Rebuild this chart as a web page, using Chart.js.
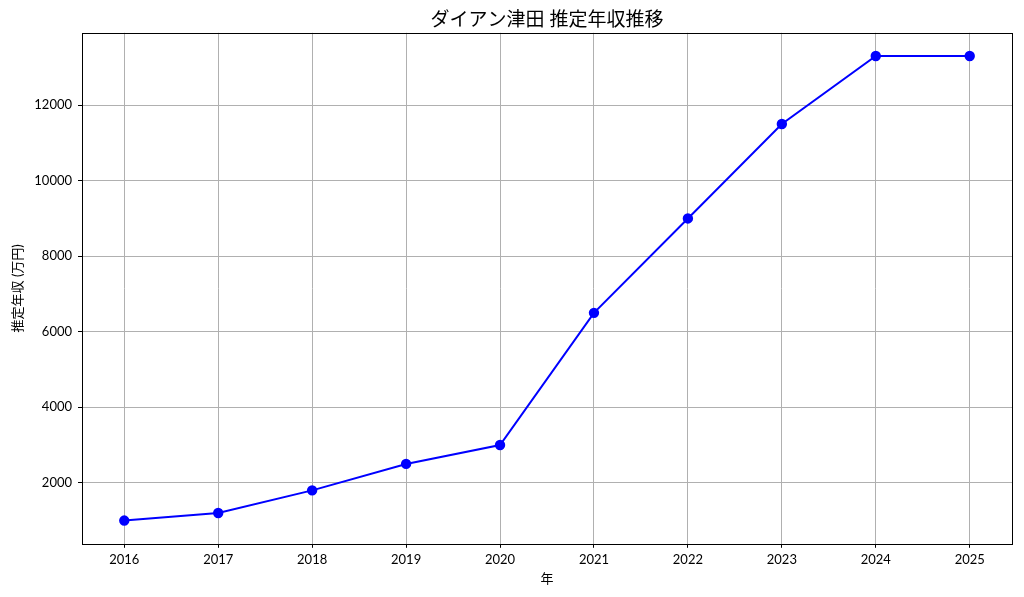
<!DOCTYPE html>
<html>
<head>
<meta charset="utf-8">
<script src="https://cdn.jsdelivr.net/npm/chart.js@4"></script>
<style>
  html, body { margin: 0; padding: 0; background: #fff; }
  #wrap { width: 1024px; height: 597px; }
</style>
</head>
<body>
<div id="wrap"><canvas id="myChart" width="1024" height="597"></canvas></div>
<script>
// 年ごとの推定年収 (万円)
const years = [2016, 2017, 2018, 2019, 2020, 2021, 2022, 2023, 2024, 2025];
const income = [1000, 1200, 1800, 2500, 3000, 6500, 9000, 11500, 13300, 13300];
const yTicks = [2000, 4000, 6000, 8000, 10000, 12000];

const font = "Lato, 'Noto Sans CJK JP', sans-serif";

// 枠線を四辺に描く
const frame = {
  id: "frame",
  afterDraw(chart) {
    const { ctx, chartArea: a } = chart;
    ctx.save();
    ctx.strokeStyle = "#000";
    ctx.lineWidth = 1;
    ctx.strokeRect(Math.round(a.left) + 0.5, Math.round(a.top) + 0.5,
      Math.round(a.right - a.left), Math.round(a.bottom - a.top));
    ctx.restore();
  },
};

const ctx = document.getElementById("myChart").getContext("2d");
const myChart = new Chart(ctx, {
  type: "line",
  data: {
    datasets: [
      {
        data: years.map((y, i) => ({ x: y, y: income[i] })),
        borderColor: "#0000ff",
        backgroundColor: "#0000ff",
        borderWidth: 2,
        pointRadius: 4.2,
        pointHoverRadius: 4.2,
        tension: 0,
      },
    ],
  },
  options: {
    responsive: false,
    animation: false,
    layout: { padding: { left: 10, right: 12, top: 0, bottom: 10 } },
    plugins: {
      legend: { display: false },
      tooltip: { enabled: false },
      title: {
        display: true,
        fullSize: false,
        text: "ダイアン津田 推定年収推移",
        color: "#000",
        font: { family: font, size: 19, weight: "normal" },
        padding: { top: 8, bottom: 2 },
      },
    },
    scales: {
      x: {
        type: "linear",
        min: 2015.55,
        max: 2025.45,
        afterBuildTicks: (s) => { s.ticks = years.map((v) => ({ value: v })); },
        ticks: {
          color: "#000",
          font: { family: font, size: 13 },
          callback: (v) => String(v),
          maxRotation: 0,
          padding: 4,
        },
        grid: { color: "#b0b0b0", lineWidth: 1, tickColor: "#000", tickLength: 4 },
        border: { display: false },
        title: {
          display: true,
          text: "年",
          color: "#000",
          font: { family: font, size: 13 },
          padding: { top: 0, bottom: 0 },
        },
      },
      y: {
        type: "linear",
        min: 385,
        max: 13915,
        afterBuildTicks: (s) => { s.ticks = yTicks.map((v) => ({ value: v })); },
        afterFit: (s) => { s.width = 72; },
        ticks: {
          color: "#000",
          font: { family: font, size: 13 },
          callback: (v) => String(v),
          padding: 6,
        },
        grid: { color: "#b0b0b0", lineWidth: 1, tickColor: "#000", tickLength: 4 },
        border: { display: false },
        title: {
          display: true,
          text: "推定年収 (万円)",
          color: "#000",
          font: { family: font, size: 13 },
          padding: { top: 0, bottom: 4 },
        },
      },
    },
  },
  plugins: [frame],
});
</script>
</body>
</html>
